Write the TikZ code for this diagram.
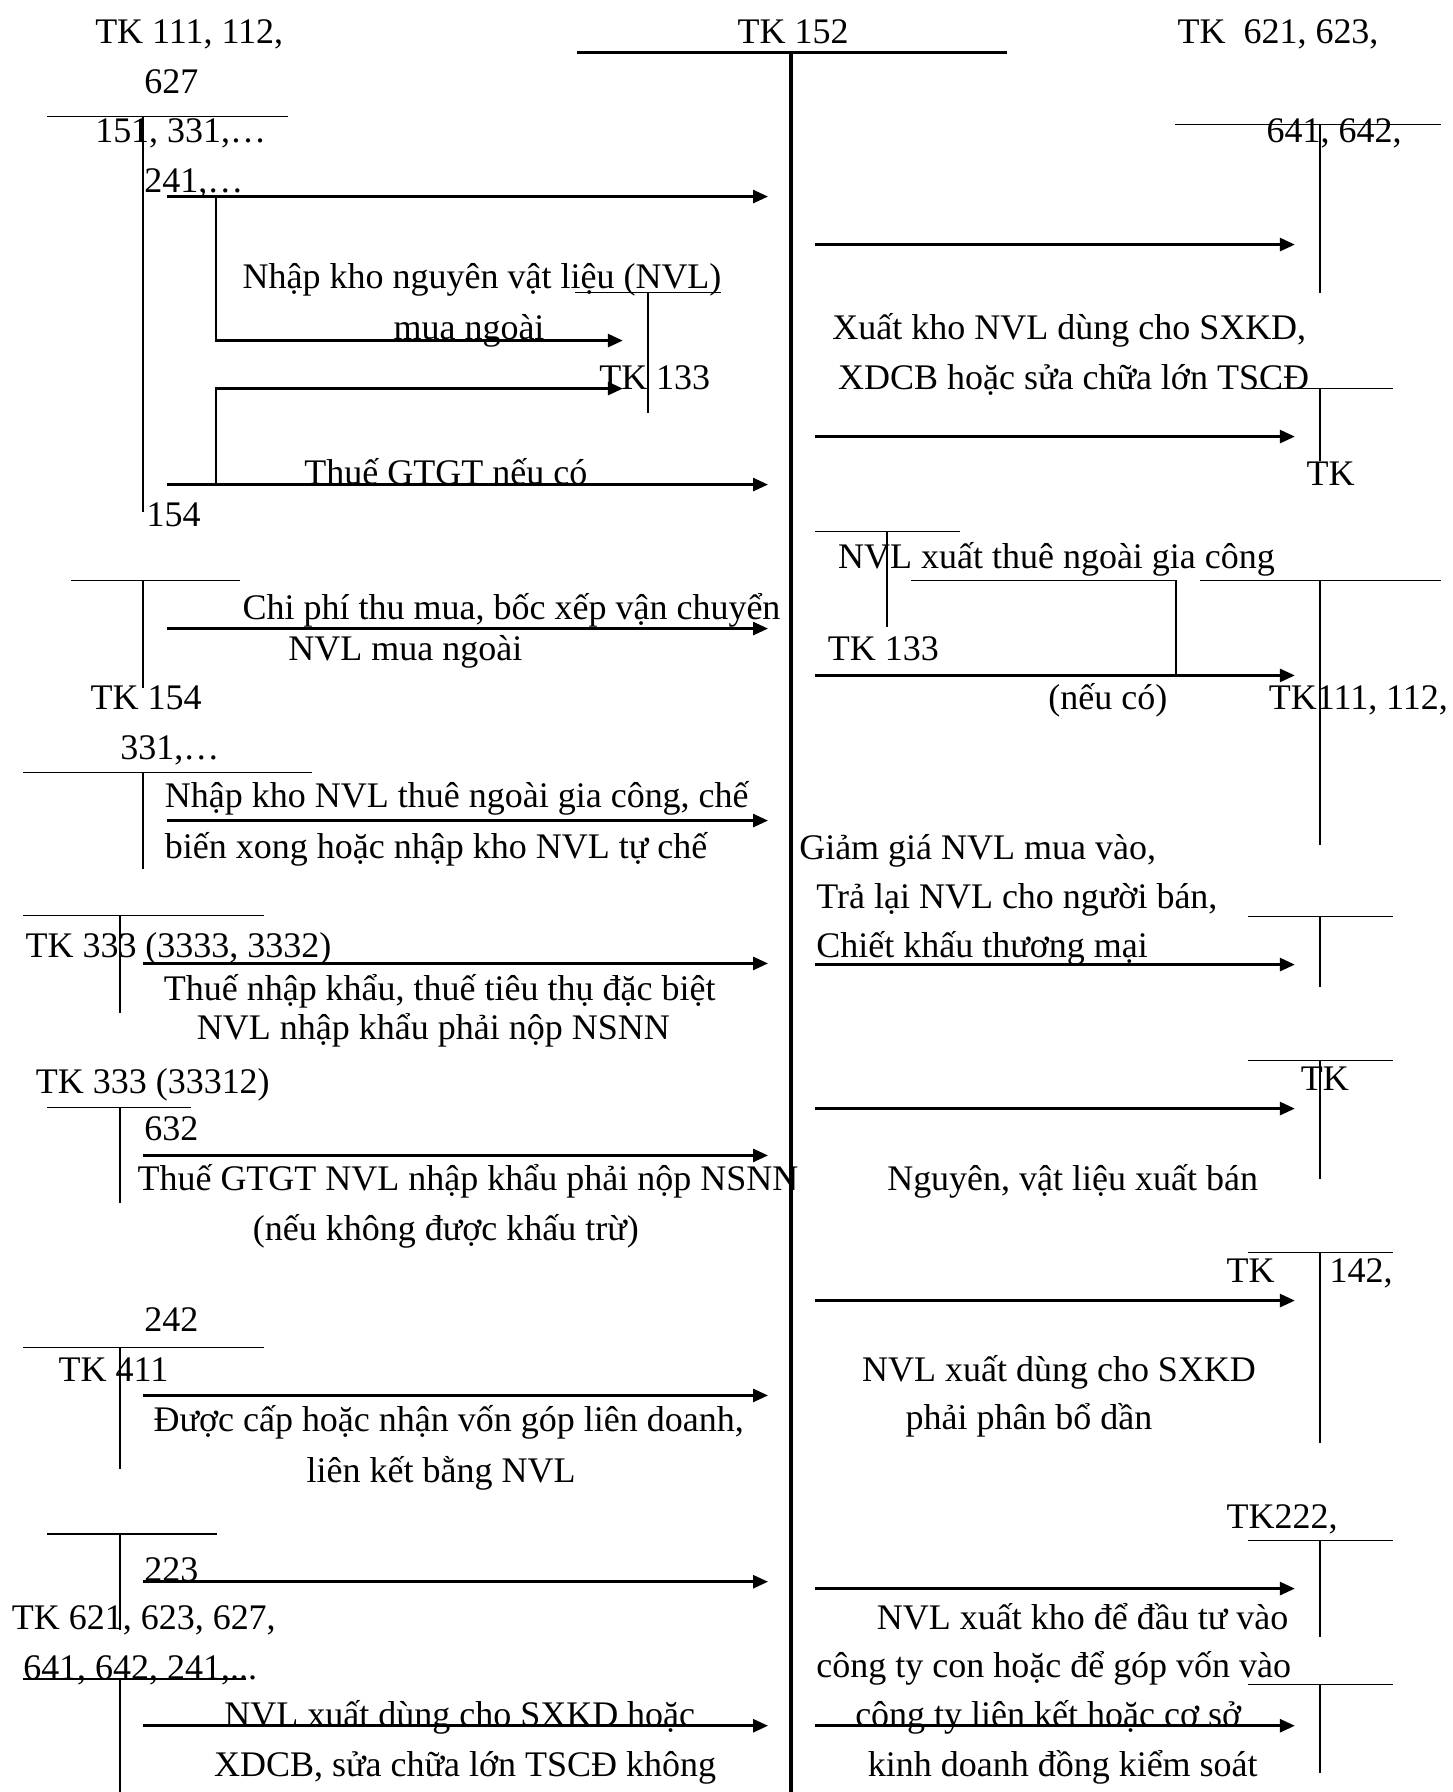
\documentclass[tikz,border=0pt]{standalone}
\usepackage{fontspec}
\setmainfont{Liberation Serif}
\usetikzlibrary{arrows.meta}
\tikzset{
  lbl/.style={inner sep=0pt, anchor=base west, yshift=-1pt, font=\fontsize{18}{22}\selectfont},
  acct/.style={line width=0.85pt},
  main/.style={line width=1.7pt},
  arr/.style={-{Triangle[length=7.5pt,width=6.5pt]}, line width=1.4pt},
}
\begin{document}
\begin{tikzpicture}[x=0.5716pt, y=-0.5716pt]
  \useasboundingbox (0,0) rectangle (1271,1568);
  % TK 152 (centre account)
  \node[lbl] (tk152) at (645,36) {TK 152};
  \draw[main] (505,46) -- (881,46);
  \draw[main] (692,46) -- (692,1568);

  % left accounts: labels
  \node[lbl] (tk111) at (83,36) {TK 111, 112,};
  \node[lbl] (n627) at (126,80) {627};
  \node[lbl] (n151) at (83,123) {151, 331,…};
  \node[lbl] (n241) at (126,167) {241,…};
  \node[lbl] (nhap) at (212,251) {Nhập kho nguyên vật liệu (NVL)};
  \node[lbl] (mua) at (344,295) {mua ngoài};
  \node[lbl] (tk133a) at (524,339) {TK 133};
  \node[lbl] (gtgt) at (266,422) {Thuế GTGT nếu có};
  \node[lbl] (n154a) at (128,459) {154};
  \node[lbl] (chiphi) at (212,540) {Chi phí thu mua, bốc xếp vận chuyển};
  \node[lbl] (nvlmua) at (252,576) {NVL mua ngoài};
  \node[lbl] (tk154) at (79,619) {TK 154};
  \node[lbl] (n331) at (105,663) {331,…};
  \node[lbl] (giacong1) at (144,705) {Nhập kho NVL thuê ngoài gia công, chế};
  \node[lbl] (giacong2) at (144,749) {biến xong hoặc nhập kho NVL tự chế};
  \node[lbl] (tk3333) at (22,836) {TK 333 (3333, 3332)};
  \node[lbl] (nk1) at (143,874) {Thuế nhập khẩu, thuế tiêu thụ đặc biệt};
  \node[lbl] (nk2) at (172,908) {NVL nhập khẩu phải nộp NSNN};
  \node[lbl] (tk33312) at (31,955) {TK 333 (33312)};
  \node[lbl] (n632) at (126,996) {632};
  \node[lbl] (vat1) at (120,1040) {Thuế GTGT NVL nhập khẩu phải nộp NSNN};
  \node[lbl] (vat2) at (221,1084) {(nếu không được khấu trừ)};
  \node[lbl] (n242) at (126,1163) {242};
  \node[lbl] (tk411) at (51,1207) {TK 411};
  \node[lbl] (von1) at (134,1251) {Được cấp hoặc nhận vốn góp liên doanh,};
  \node[lbl] (von2) at (268,1295) {liên kết bằng NVL};
  \node[lbl] (n223) at (126,1382) {223};
  \node[lbl] (tk621b) at (10,1424) {TK 621, 623, 627,};
  \node[lbl] (n641b) at (20,1468) {641, 642, 241,...};
  \node[lbl] (xdung1) at (196,1509) {NVL xuất dùng cho SXKD hoặc};
  \node[lbl] (xdung2) at (187,1553) {XDCB, sửa chữa lớn TSCĐ không};

  % left accounts: T lines
  \draw[acct] (41,102) -- (252,102) (125,102) -- (125,448);
  \draw[acct] (503,256) -- (631,256) (567,256) -- (567,361);
  \draw[acct] (62,508) -- (210,508) (125,508) -- (125,602);
  \draw[acct] (20,676) -- (273,676) (125,676) -- (125,760);
  \draw[acct] (20,801) -- (231,801) (105,801) -- (105,886);
  \draw[acct] (41,969) -- (167,969) (105,969) -- (105,1053);
  \draw[acct] (20,1179) -- (231,1179) (105,1179) -- (105,1285);
  \draw[acct] (41,1342) -- (190,1342) (105,1342) -- (105,1426);
  \draw[acct] (20,1469) -- (215,1469) (105,1469) -- (105,1568);

  % left arrows into TK 152
  \foreach \y/\xs in {172/146, 424/146, 550/146, 718/146, 843/125, 1011/125, 1221/125, 1384/125, 1510/125}
    \draw[arr] (\xs,\y) -- (672,\y);
  \draw[arr] (189,172) -- (189,298) -- (545,298);
  \draw[arr] (189,424) -- (189,340) -- (545,340);

  % right accounts: labels
  \node[lbl] (tk621) at (1030,36) {TK\ \ 621, 623,};
  \node[lbl] (n641) at (1108,123) {641, 642,};
  \node[lbl] (xuat1) at (728,295) {Xuất kho NVL dùng cho SXKD,};
  \node[lbl] (xuat2) at (733,339) {XDCB hoặc sửa chữa lớn TSCĐ};
  \node[lbl] (tka) at (1143,423) {TK};
  \node[lbl] (thue) at (733,496) {NVL xuất thuê ngoài gia công};
  \node[lbl] (tk133b) at (724,576) {TK 133};
  \node[lbl] (neuco) at (917,619) {(nếu có)};
  \node[lbl] (tk111b) at (1110,619) {TK111, 112,};
  \node[lbl] (giam1) at (699,750) {Giảm giá NVL mua vào,};
  \node[lbl] (giam2) at (714,793) {Trả lại NVL cho người bán,};
  \node[lbl] (giam3) at (714,836) {Chiết khấu thương mại};
  \node[lbl] (tkb) at (1138,952) {TK};
  \node[lbl] (ban) at (776,1040) {Nguyên, vật liệu xuất bán};
  \node[lbl] (tkc) at (1073,1120) {TK};
  \node[lbl] (n142) at (1163,1120) {142,};
  \node[lbl] (pb1) at (754,1207) {NVL xuất dùng cho SXKD};
  \node[lbl] (pb2) at (792,1249) {phải phân bổ dần};
  \node[lbl] (tk222) at (1073,1336) {TK222,};
  \node[lbl] (dt1) at (767,1424) {NVL xuất kho để đầu tư vào};
  \node[lbl] (dt2) at (714,1466) {công ty con hoặc để góp vốn vào};
  \node[lbl] (dt3) at (748,1509) {công ty liên kết hoặc cơ sở};
  \node[lbl] (dt4) at (759,1553) {kinh doanh đồng kiểm soát};

  % right accounts: T lines
  \draw[acct] (1028,109) -- (1261,109) (1155,109) -- (1155,256);
  \draw[acct] (1092,340) -- (1219,340) (1155,340) -- (1155,403);
  \draw[acct] (713,465) -- (840,465) (776,465) -- (776,549);
  \draw[acct] (1050,508) -- (1261,508) (1155,508) -- (1155,739);
  \draw[acct] (797,508) -- (1029,508) -- (1029,591);
  \draw[acct] (1092,802) -- (1219,802) (1155,802) -- (1155,864);
  \draw[acct] (1092,928) -- (1219,928) (1155,928) -- (1155,1032);
  \draw[acct] (1092,1096) -- (1219,1096) (1155,1096) -- (1155,1263);
  \draw[acct] (1092,1348) -- (1219,1348) (1155,1348) -- (1155,1432);
  \draw[acct] (1092,1474) -- (1219,1474) (1155,1474) -- (1155,1551);

  % right arrows out of TK 152
  \foreach \y in {214, 382, 591, 844, 970, 1138, 1390, 1510}
    \draw[arr] (713,\y) -- (1133,\y);
\end{tikzpicture}
\end{document}
